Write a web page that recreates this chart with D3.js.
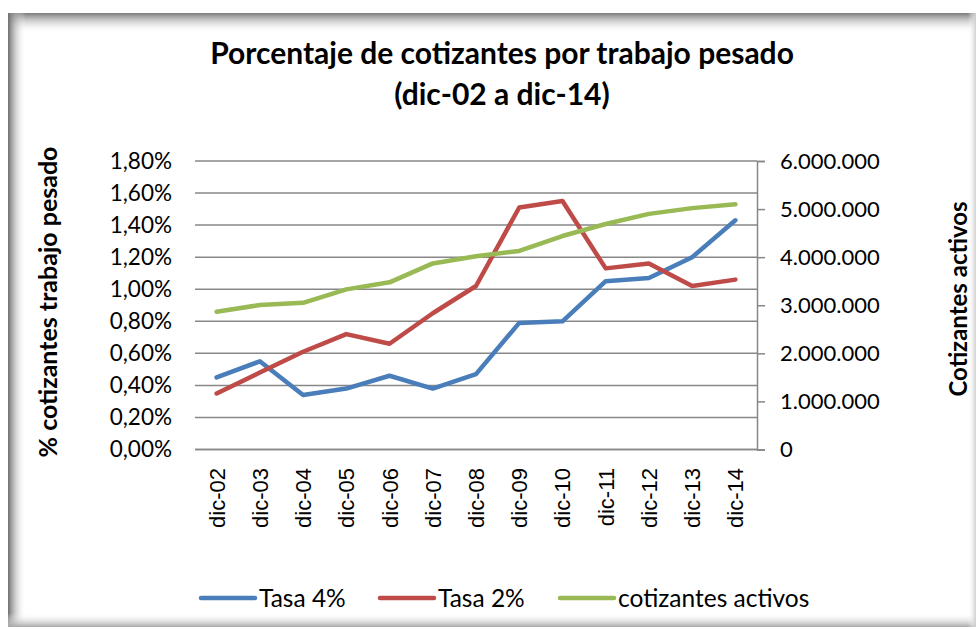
<!DOCTYPE html>
<html>
<head>
<meta charset="utf-8">
<script src="https://cdn.jsdelivr.net/npm/d3@7"></script>
<style>
  body { margin: 0; background: #fff; }
  svg { display: block; }
</style>
</head>
<body>
<svg id="chart" width="977" height="629"></svg>
<script>
// categories and values
var categories = ["dic-02","dic-03","dic-04","dic-05","dic-06","dic-07","dic-08","dic-09","dic-10","dic-11","dic-12","dic-13","dic-14"];
var tasa4 = [0.45, 0.55, 0.34, 0.38, 0.46, 0.38, 0.47, 0.79, 0.80, 1.05, 1.07, 1.20, 1.43];
var tasa2 = [0.35, 0.48, 0.61, 0.72, 0.66, 0.85, 1.02, 1.51, 1.55, 1.13, 1.16, 1.02, 1.06];
var cotizantes = [2866000, 3005000, 3050000, 3330000, 3477000, 3870000, 4020000, 4130000, 4440000, 4690000, 4900000, 5020000, 5100000];
var leftTicks = [0, 0.2, 0.4, 0.6, 0.8, 1.0, 1.2, 1.4, 1.6, 1.8];
var rightTicks = [0, 1000000, 2000000, 3000000, 4000000, 5000000, 6000000];

var series = [
  { name: "Tasa 4%", values: tasa4, axis: "left", color: "#4A7EBB" },
  { name: "Tasa 2%", values: tasa2, axis: "left", color: "#BE4B48" },
  { name: "cotizantes activos", values: cotizantes, axis: "right", color: "#98B954" }
];

var es = d3.formatLocale({ decimal: ",", thousands: ".", grouping: [3], currency: ["", "€"] });
var fmtPct = function(d) { return es.format(".2f")(d) + "%"; };
var fmtNum = es.format(",.0f");

var svg = d3.select("#chart");
var plot = { left: 195, right: 757, top: 161, bottom: 449.5 };
var font = "Lato, 'Open Sans', sans-serif";

// ---- frame with inner shadow ----
var defs = svg.append("defs");
function grad(id, x1, y1, x2, y2, c1, c2) {
  var g = defs.append("linearGradient").attr("id", id)
    .attr("x1", x1).attr("y1", y1).attr("x2", x2).attr("y2", y2);
  g.append("stop").attr("offset", "0%").attr("stop-color", c1);
  g.append("stop").attr("offset", "100%").attr("stop-color", c2).attr("stop-opacity", 0);
}
grad("gL", "0", "0", "1", "0", "#6e6e6e", "#ffffff");
grad("gT", "0", "0", "0", "1", "#7a7a7a", "#ffffff");
grad("gB", "0", "1", "0", "0", "#a8a8a8", "#ffffff");
grad("gR", "1", "0", "0", "0", "#cfcfcf", "#ffffff");

var fx0 = 8, fy0 = 13, fx1 = 976, fy1 = 627;
svg.append("rect").attr("x", fx0).attr("y", fy0).attr("width", fx1 - fx0).attr("height", fy1 - fy0).attr("fill", "#fff");
svg.append("rect").attr("x", fx0).attr("y", fy0).attr("width", fx1 - fx0).attr("height", 20).attr("fill", "url(#gT)");
svg.append("rect").attr("x", fx0).attr("y", fy0).attr("width", 18).attr("height", fy1 - fy0).attr("fill", "url(#gL)");
svg.append("rect").attr("x", fx0).attr("y", fy1 - 14).attr("width", fx1 - fx0).attr("height", 14).attr("fill", "url(#gB)");
svg.append("rect").attr("x", fx1 - 8).attr("y", fy0).attr("width", 8).attr("height", fy1 - fy0).attr("fill", "url(#gR)");

// ---- scales ----
var x = d3.scalePoint().domain(categories).range([plot.left, plot.right]).padding(0.5);
var yL = d3.scaleLinear().domain([0, 1.8]).range([plot.bottom, plot.top]);
var yR = d3.scaleLinear().domain([0, 6000000]).range([plot.bottom, plot.top]);

var gridColor = "#878787";

// gridlines
svg.append("g").selectAll("line").data(leftTicks).join("line")
  .attr("x1", plot.left).attr("x2", plot.right)
  .attr("y1", function(d) { return yL(d); }).attr("y2", function(d) { return yL(d); })
  .attr("stroke", gridColor).attr("stroke-width", 1.5);

// left labels
svg.append("g").selectAll("text").data(leftTicks).join("text")
  .attr("x", 172).attr("y", function(d) { return yL(d); })
  .attr("dy", "0.35em").attr("text-anchor", "end")
  .attr("font-family", font).attr("font-size", 22.5).attr("fill", "#000")
  .text(fmtPct);

// right axis
var axR = d3.axisRight(yR).tickValues(rightTicks).tickSize(8).tickFormat(fmtNum).tickPadding(15);
var gR = svg.append("g").attr("transform", "translate(" + plot.right + ",0)").call(axR);
gR.select(".domain").attr("stroke", gridColor).attr("stroke-width", 1.5);
gR.selectAll(".tick line").attr("stroke", gridColor).attr("stroke-width", 1.5);
gR.selectAll(".tick text").attr("font-family", font).attr("font-size", 22).attr("fill", "#000");

// bottom axis line
svg.append("line").attr("x1", plot.left).attr("x2", plot.right)
  .attr("y1", plot.bottom).attr("y2", plot.bottom)
  .attr("stroke", gridColor).attr("stroke-width", 1.5);

// category labels, rotated
svg.append("g").selectAll("text").data(categories).join("text")
  .attr("transform", function(d) { return "translate(" + (x(d) + 8) + "," + 468 + ") rotate(-90)"; })
  .attr("text-anchor", "end")
  .attr("font-family", "'Liberation Sans', Arial, sans-serif").attr("font-size", 22).attr("fill", "#000")
  .text(function(d) { return d; });

// ---- lines ----
series.forEach(function(s) {
  var yy = s.axis === "left" ? yL : yR;
  var line = d3.line()
    .x(function(d, i) { return x(categories[i]); })
    .y(function(d) { return yy(d); });
  svg.append("path").datum(s.values)
    .attr("d", line)
    .attr("fill", "none").attr("stroke", s.color)
    .attr("stroke-width", 4.5).attr("stroke-linejoin", "round").attr("stroke-linecap", "round");
});

// ---- titles ----
var title = svg.append("text").attr("text-anchor", "middle")
  .attr("font-family", font).attr("font-weight", "bold").attr("font-size", 30).attr("fill", "#000");
title.append("tspan").attr("x", 502).attr("y", 64).text("Porcentaje de cotizantes por trabajo pesado");
title.append("tspan").attr("x", 502).attr("y", 105).text("(dic-02 a dic-14)");

svg.append("text")
  .attr("transform", "translate(57,302) rotate(-90)")
  .attr("text-anchor", "middle")
  .attr("font-family", font).attr("font-weight", "bold").attr("font-size", 25).attr("fill", "#000")
  .text("% cotizantes trabajo pesado");

svg.append("text")
  .attr("transform", "translate(967,299) rotate(-90)")
  .attr("text-anchor", "middle")
  .attr("font-family", font).attr("font-weight", "bold").attr("font-size", 24).attr("fill", "#000")
  .text("Cotizantes activos");

// ---- legend ----
var legendX = [201, 380, 560];
var lg = svg.append("g").selectAll("g").data(series).join("g")
  .attr("transform", function(d, i) { return "translate(" + legendX[i] + ",598)"; });
lg.append("line").attr("x1", 0).attr("x2", 54).attr("y1", 0).attr("y2", 0)
  .attr("stroke", function(d) { return d.color; }).attr("stroke-width", 4.5).attr("stroke-linecap", "round");
lg.append("text").attr("x", 58).attr("y", 0).attr("dy", "0.35em")
  .attr("font-family", font).attr("font-size", 24.5).attr("fill", "#000")
  .text(function(d) { return d.name; });
</script>
</body>
</html>
